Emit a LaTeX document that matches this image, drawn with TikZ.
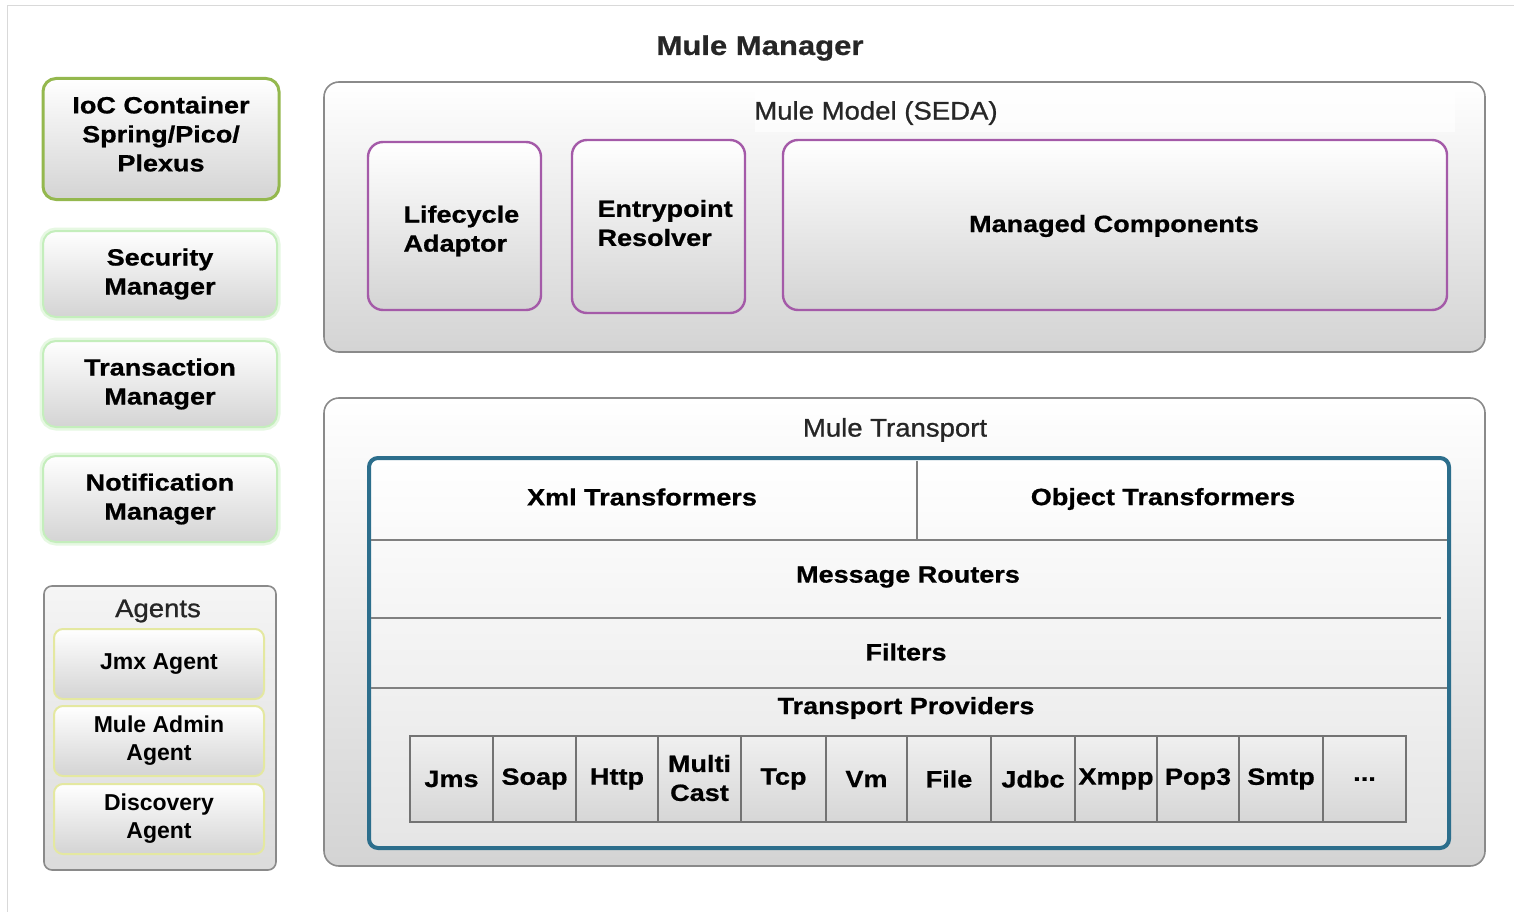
\documentclass[tikz,border=0pt]{standalone}
\usepackage{fontspec}
\setmainfont{Liberation Sans}
\newfontface\bfw[FakeStretch=1.15,FakeBold=0.8]{Liberation Sans Bold}
\newfontface\rgw[FakeStretch=1.08,FakeBold=0.9]{Liberation Sans}
\definecolor{olivegr}{HTML}{94B84E}
\definecolor{lightgr}{HTML}{C4EEBC}
\definecolor{glowgr}{HTML}{E6F8E2}
\definecolor{yelbd}{HTML}{E4E8A0}
\definecolor{purp}{HTML}{A45AA8}
\definecolor{tblue}{HTML}{2C6E8C}
\definecolor{frame}{HTML}{8A8A8A}
\newcommand{\lab}{\bfw\fontsize{23.5}{29}\selectfont}
\newcommand{\ttl}{\rgw\fontsize{25.5}{29}\selectfont}
\begin{document}
\begin{tikzpicture}[x=1pt,y=-1pt,
  gbox/.style={rounded corners=13pt, top color=white, bottom color=black!17,
    inner sep=0pt, align=center, font=\lab},
  bigbox/.style={rounded corners=15pt, top color=white, bottom color=black!17,
    draw=frame, line width=1.6pt, inner sep=0pt},
  greenbox/.style={gbox, draw=lightgr, line width=2pt,
    preaction={draw=glowgr, line width=7pt}},
  agentbox/.style={gbox, draw=yelbd, line width=2pt, rounded corners=9pt,
    font=\fontsize{23}{28}\selectfont\bfseries},
  purpbox/.style={gbox, draw=purp, line width=2.4pt, rounded corners=15pt},
  rowtxt/.style={inner sep=0pt, align=center, font=\lab},
  cell/.style={draw=black!55, line width=1.2pt, top color=black!6, bottom color=black!16,
    inner sep=0pt, align=center, font=\lab, minimum height=86pt},
  divline/.style={draw=black!50, line width=1.4pt}
]
\useasboundingbox (0,0) rectangle (1514,912);
\fill[white] (0,0) rectangle (1514,912);
\draw[black!15, line width=1pt] (7,912) -- (7,6) -- (1514,6);

% title
\node[font=\bfw\fontsize{27}{32}\selectfont, text=black!85] (mm) at (760,48) {Mule Manager};

% left column
\node[gbox, draw=olivegr, line width=3pt, minimum width=236pt, minimum height=121pt] (ioc) at (161,139) {};
\node[font=\lab, align=center] (ioct) at (161,134) {IoC Container\\Spring/Pico/\\Plexus};
\node[greenbox, minimum width=234pt, minimum height=86pt] (sec) at (160,274) {Security\\Manager};
\node[greenbox, minimum width=234pt, minimum height=86pt] (trans) at (160,384) {Transaction\\Manager};
\node[greenbox, minimum width=234pt, minimum height=86pt] (notif) at (160,499) {Notification\\Manager};

\node[gbox, draw=frame, line width=1.6pt, rounded corners=8pt, top color=black!4, bottom color=black!14,
  minimum width=232pt, minimum height=284pt] (agents) at (160,728) {};
\node[font=\ttl, text=black!85] (agtitle) at (158,611) {Agents};
\node[agentbox, minimum width=210pt, minimum height=70pt] (jmx) at (159,664) {Jmx Agent};
\node[agentbox, minimum width=210pt, minimum height=70pt] (admin) at (159,741) {Mule Admin\\Agent};
\node[agentbox, minimum width=210pt, minimum height=70pt] (disc) at (159,819) {Discovery\\Agent};

% Mule Model
\node[bigbox, minimum width=1161pt, minimum height=270pt] (model) at (904.5,217) {};
\node[fill=white, fill opacity=0.7,
  minimum width=700pt, minimum height=40pt] (modeltitle) at (1105,112) {};
\node[font=\ttl, text=black!85] (mtext) at (876,113) {Mule Model (SEDA)};
\node[purpbox, minimum width=173pt, minimum height=168pt] (life) at (454.5,226) {};
\node[font=\lab, align=left, anchor=west] (lifet) at (400,231) {Lifecycle\\Adaptor};
\node[purpbox, minimum width=173pt, minimum height=173pt] (entry) at (658.5,226.5) {};
\node[font=\lab, align=left, anchor=west] (entryt) at (594,223) {Entrypoint\\Resolver};
\node[purpbox, minimum width=664pt, minimum height=170pt] (managed) at (1115,225) {};
\node[font=\lab] (managedt) at (1114,226) {Managed Components};

% Mule Transport
\node[bigbox, minimum width=1161pt, minimum height=468pt] (transport) at (904.5,632) {};
\node[font=\ttl, text=black!85] (ttitle) at (895,430) {Mule Transport};
\node[draw=tblue, line width=4pt, rounded corners=9pt, top color=white, bottom color=black!10,
  minimum width=1080pt, minimum height=390pt, inner sep=0pt] (blue) at (909,653) {};

\coordinate (r1l) at (371,540);
\coordinate (r1r) at (1447,540);
\coordinate (r2l) at (371,618);
\coordinate (r2r) at (1441,618);
\coordinate (r3l) at (371,688);
\coordinate (r3r) at (1447,688);
\coordinate (vt) at (917,461);
\coordinate (vb) at (917,540);
\draw[divline] (r1l) -- (r1r);
\draw[divline] (r2l) -- (r2r);
\draw[divline] (r3l) -- (r3r);
\draw[divline] (vt) -- (vb);

\node[rowtxt] (xml) at (642,497) {Xml Transformers};
\node[rowtxt] (obj) at (1163,499) {Object Transformers};
\node[rowtxt] (routers) at (908,577) {Message Routers};
\node[rowtxt] (filters) at (906,652) {Filters};
\node[rowtxt] (tp) at (906,708) {Transport Providers};

% provider cells
\node[cell, minimum width=83pt] (jms)  at (451.5,779) {Jms};
\node[cell, minimum width=83pt] (soap) at (534.5,779) {Soap};
\node[cell, minimum width=82pt] (http) at (617,779) {Http};
\node[cell, minimum width=83pt] (multi) at (699.5,779) {};
\node[font=\lab, align=center] (multit) at (699.5,778) {Multi\\Cast};
\node[cell, minimum width=85pt] (tcp)  at (783.5,779) {Tcp};
\node[cell, minimum width=81pt] (vm)   at (866.5,779) {Vm};
\node[cell, minimum width=84pt] (file) at (949,779) {File};
\node[cell, minimum width=84pt] (jdbc) at (1033,779) {Jdbc};
\node[cell, minimum width=82pt] (xmpp) at (1116,779) {Xmpp};
\node[cell, minimum width=82pt] (pop)  at (1198,779) {Pop3};
\node[cell, minimum width=84pt] (smtp) at (1281,779) {Smtp};
\node[cell, minimum width=83pt] (dots) at (1364.5,779) {...};
\end{tikzpicture}
\end{document}
